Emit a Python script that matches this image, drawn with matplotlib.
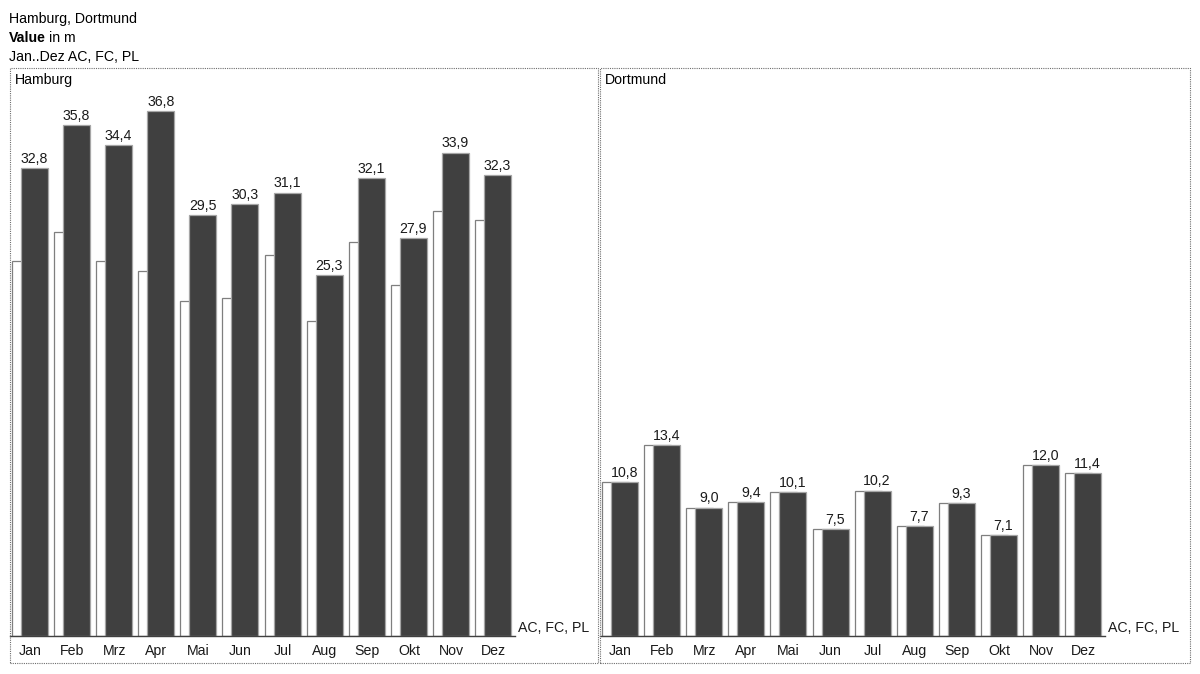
import matplotlib
matplotlib.use("Agg")
import matplotlib.pyplot as plt
from matplotlib.patches import Rectangle

plt.rcParams["font.family"] = ["Liberation Sans", "DejaVu Sans"]

months = ["Jan", "Feb", "Mrz", "Apr", "Mai", "Jun", "Jul", "Aug", "Sep", "Okt", "Nov", "Dez"]
hamburg_ac = [32.8, 35.8, 34.4, 36.8, 29.5, 30.3, 31.1, 25.3, 32.1, 27.9, 33.9, 32.3]
hamburg_pl = [26.3, 28.3, 26.3, 25.6, 23.5, 23.7, 26.7, 22.1, 27.6, 24.6, 29.8, 29.2]
dortmund_ac = [10.8, 13.4, 9.0, 9.4, 10.1, 7.5, 10.2, 7.7, 9.3, 7.1, 12.0, 11.4]
dortmund_pl = [10.8, 13.4, 9.0, 9.4, 10.1, 7.5, 10.2, 7.7, 9.3, 7.1, 12.0, 11.4]

W, H = 1200, 674
fig = plt.figure(figsize=(12, 6.74), dpi=100)

# header
fig.text(9 / W, 1 - 19 / H, "Hamburg, Dortmund", fontsize=10.2, va="center")
fig.text(9 / W, 1 - 38 / H, "Value", fontsize=10.2, va="center", fontweight="bold")
fig.text(49 / W, 1 - 38 / H, "in m", fontsize=10.2, va="center")
fig.text(9 / W, 1 - 57 / H, "Jan..Dez AC, FC, PL", fontsize=10.2, va="center")

px = 42.1          # pixels per month
scale = 14.26      # pixels per unit
base_y = 636
top_y = 68
bot_y = 663


def panel(x0, x1, name, ac, pl):
    # dotted frame
    fig.patches.append(Rectangle((x0 / W, 1 - bot_y / H), (x1 - x0) / W, (bot_y - top_y) / H,
                                 transform=fig.transFigure, fill=False, ec="#6e6e6e",
                                 lw=0.8, ls=(0, (1, 1))))
    fig.text((x0 + 5) / W, 1 - 80 / H, name, fontsize=10.2, va="center")

    ax = fig.add_axes([x0 / W, 1 - base_y / H, (x1 - x0) / W, (base_y - top_y) / H])
    left = -24.5 / px
    ax.set_xlim(left, left + (x1 - x0) / px)
    ax.set_ylim(0, (base_y - top_y) / scale)
    ax.axis("off")

    w = 27 / px
    off = 9 / px
    xs = list(range(len(months)))
    ax.bar([x - off for x in xs], pl, width=w, color="white", edgecolor="#7f7f7f", lw=0.9)
    ax.bar(xs, ac, width=w, color="#404040", edgecolor="#a6a6a6", lw=0.9)

    for x, v in zip(xs, ac):
        ax.annotate(f"{v:.1f}".replace(".", ","), (x, v), xytext=(0, 1.6), textcoords="offset points",
                    ha="center", va="bottom", fontsize=10.2, color="#1a1a1a")
    for x, m in zip(xs, months):
        ax.annotate(m, (x - off / 2, 0), xytext=(0, -10.5), textcoords="offset points",
                    ha="center", va="center", fontsize=10.2, color="#1a1a1a")

    ax.plot([left, 11 + 0.41], [0, 0], color="#404040", lw=1, clip_on=False)
    ax.annotate("AC, FC, PL", (11.41, 0), xytext=(2.5, 0.5), textcoords="offset points",
                ha="left", va="bottom", fontsize=10.2, color="#1a1a1a")


panel(10, 598, "Hamburg", hamburg_ac, hamburg_pl)
panel(600, 1190, "Dortmund", dortmund_ac, dortmund_pl)

fig.savefig("out.png", dpi=100)
